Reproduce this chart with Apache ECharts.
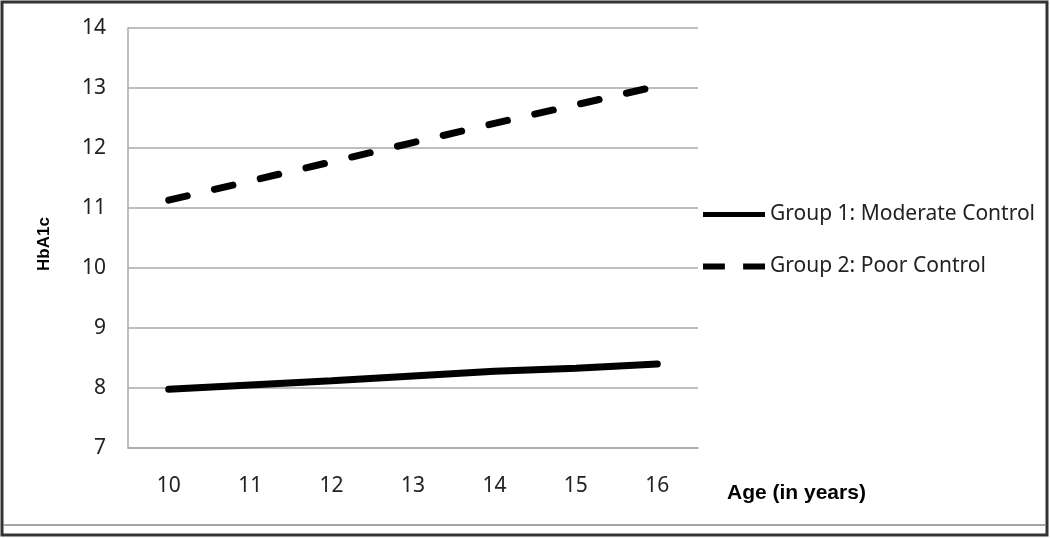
<!DOCTYPE html>
<html>
<head>
<meta charset="utf-8">
<script src="https://cdn.jsdelivr.net/npm/echarts@6/dist/echarts.min.js"></script>
<style>html,body{margin:0;padding:0;background:#fff}#c{width:1050px;height:538px}</style>
</head>
<body>
<div id="c"></div>
<script>
const ages = ['10', '11', '12', '13', '14', '15', '16'];
const moderateControl = [7.98, 8.05, 8.12, 8.20, 8.28, 8.33, 8.40];
const poorControl = [11.13, 11.45, 11.77, 12.09, 12.41, 12.72, 13.03];
const seriesNames = ['Group 1: Moderate Control', 'Group 2: Poor Control'];
const yTicks = { min: 7, max: 14, interval: 1 };

const font = '"Noto Sans", "Open Sans", sans-serif';
const boldFont = '"Liberation Sans", Arial, sans-serif';
const chart = echarts.init(document.getElementById('c'), null, { renderer: 'canvas' });
chart.setOption({
  backgroundColor: '#fff',
  animation: false,
  grid: { left: 128, right: 352, top: 28, bottom: 90, containLabel: false },
  legend: {
    orient: 'vertical',
    left: 703,
    top: 204,
    padding: 0,
    itemWidth: 62,
    itemHeight: 20,
    itemGap: 31,
    textStyle: { fontFamily: font, fontSize: 21, color: '#222' },
    data: [
      { name: seriesNames[0], icon: 'path://M0,0 L62,0 L62,5 L0,5 Z', itemStyle: { color: '#000' } },
      { name: seriesNames[1], icon: 'path://M0,0 L18,0 L18,5 L0,5 Z M33,0 L51,0 L51,5 L33,5 Z', itemStyle: { color: '#000' } }
    ]
  },
  xAxis: {
    type: 'category',
    data: ages,
    boundaryGap: true,
    name: 'Age (in years)',
    nameLocation: 'end',
    nameGap: 29,
    nameTextStyle: { fontFamily: boldFont, fontSize: 21, fontWeight: 'bold', color: '#000', align: 'left', verticalAlign: 'top', padding: [35, 0, 0, 0] },
    axisLine: { show: true, lineStyle: { color: '#a8a8a8', width: 1.5 } },
    axisTick: { show: false },
    axisLabel: { margin: 28, fontFamily: font, fontSize: 21, color: '#222' },
    splitLine: { show: false }
  },
  yAxis: {
    type: 'value',
    min: yTicks.min,
    max: yTicks.max,
    interval: yTicks.interval,
    name: 'HbA1c',
    nameLocation: 'middle',
    nameGap: 75,
    nameRotate: 90,
    nameTextStyle: { fontFamily: boldFont, fontSize: 17, fontWeight: 'bold', color: '#000', padding: [0, 12, 0, 0] },
    axisLine: { show: true, lineStyle: { color: '#a8a8a8', width: 1.5 } },
    axisTick: { show: false },
    axisLabel: { margin: 22, fontFamily: font, fontSize: 21, color: '#222' },
    splitLine: { show: true, lineStyle: { color: '#a8a8a8', width: 1.5 } }
  },
  series: [
    {
      name: seriesNames[0],
      type: 'line',
      data: moderateControl,
      symbol: 'none',
      lineStyle: { color: '#000', width: 7, cap: 'round' },
      itemStyle: { color: '#000' }
    },
    {
      name: seriesNames[1],
      type: 'line',
      data: poorControl,
      symbol: 'none',
      lineStyle: { color: '#000', width: 7, type: [19, 28], cap: 'round' },
      itemStyle: { color: '#000' }
    }
  ],
  graphic: [
    { type: 'rect', shape: { x: 2, y: 2, width: 1045, height: 533 }, style: { fill: 'none', stroke: '#333', lineWidth: 3 }, silent: true },
    { type: 'line', shape: { x1: 3, y1: 525, x2: 1046, y2: 525 }, style: { stroke: '#888', lineWidth: 1.5 }, silent: true }
  ]
});
</script>
</body>
</html>
